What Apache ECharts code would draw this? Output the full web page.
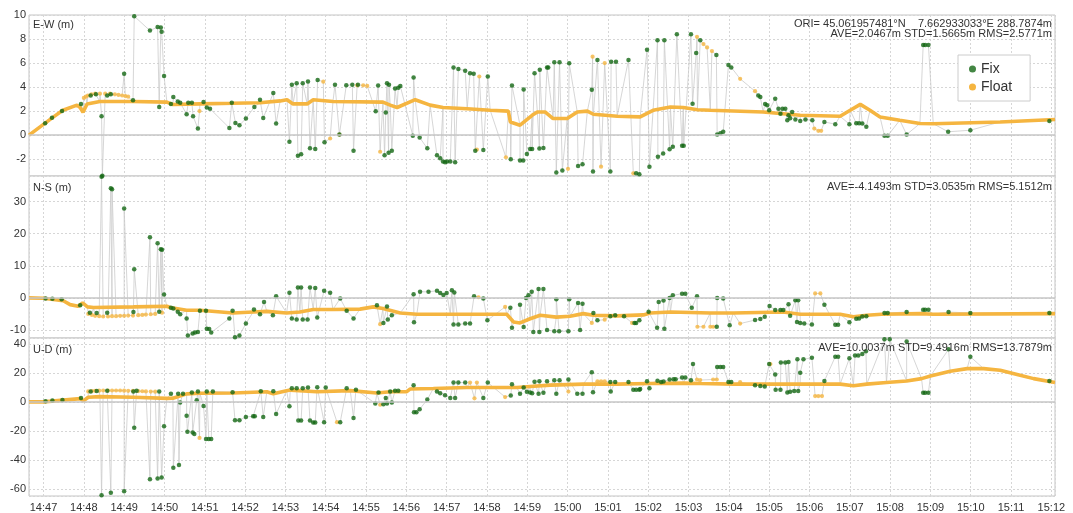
<!DOCTYPE html>
<html><head><meta charset="utf-8">
<script src="https://cdn.jsdelivr.net/npm/echarts@6/dist/echarts.min.js"></script>
<style>html,body{margin:0;padding:0;background:#fff}#c{width:1073px;height:513px}</style>
</head><body><div id="c"></div>
<script>
// time values: decimal minutes after 14:00 ; values in metres
const X_MIN = 46.64, X_MAX = 72.09;
const PANEL_TITLES = ['E-W (m)', 'N-S (m)', 'U-D (m)'];
const ORI_TEXT = 'ORI= 45.061957481°N    7.662933033°E 288.7874m';
const STATS = ['AVE=2.0467m STD=1.5665m RMS=2.5771m', 'AVE=-4.1493m STD=3.0535m RMS=5.1512m', 'AVE=10.0037m STD=9.4916m RMS=13.7879m'];
const Y_RANGES = [[-3.4, 10, 2], [-12.5, 38, 10], [-64.9, 44, 20]];

// ---------- E-W ----------
const EW_FLOAT = [[46.64,0],[47.04,1.0],[47.24,1.5],[47.48,2.07],[47.83,2.5],[47.91,2.3],[47.98,1.9],[48.08,2.6],[48.40,2.8],[49.22,2.8],[50.06,2.75],[50.21,2.55],[50.88,2.6],[51.70,2.65],[52.37,2.7],[52.87,2.85],[53.04,2.95],[53.19,2.6],[53.54,2.6],[53.69,2.95],[54.18,2.8],[55.42,2.75],[55.60,2.5],[55.77,2.3],[56.22,2.95],[56.59,2.5],[56.91,2.3],[57.51,2.2],[58.08,2.07],[58.53,2.0],[58.58,1.1],[58.82,0.83],[59.12,1.65],[59.25,1.93],[59.44,1.93],[59.64,1.38],[59.99,1.38],[60.24,1.93],[60.49,2.0],[60.64,1.74],[61.23,1.57],[61.80,1.52],[62.12,2.07],[62.55,2.34],[62.87,2.3],[63.22,2.12],[63.54,2.07],[64.85,1.93],[65.77,1.65],[66.76,1.57],[67.01,2.07],[67.26,2.56],[67.50,2.07],[67.75,1.51],[68.24,1.24],[68.74,0.97],[69.07,0.95],[70.73,1.1],[72.09,1.3]];
const EW_FLOAT_X = [[48.00,3.1],[48.05,3.2],[48.10,3.3],[48.19,3.4],[48.28,3.45],[48.40,3.45],[48.53,3.45],[48.65,3.45],[48.77,3.4],[48.86,3.35],[48.95,3.3],[49.03,3.25],[49.10,3.2],[50.87,2.0],[53.94,4.45],[54.11,-0.28],[54.34,0.05],[54.78,4.15],[54.93,4.15],[55.03,4.1],[55.35,-1.38],[57.75,-1.2],[57.81,4.88],[58.47,-1.84],[60.01,-2.8],[60.62,6.53],[60.83,-2.62],[60.92,6.0],[61.63,-3.18],[63.21,8.18],[63.37,7.58],[63.46,7.3],[63.58,7.0],[64.28,4.69],[64.65,3.66],[66.12,0.55],[66.22,0.36],[66.29,0.36]];
const EW_FIX = [[47.04,1.0],[47.21,1.45],[47.46,2.0],[47.93,2.6],[48.17,3.3],[48.30,3.4],[48.44,1.57],[48.46,-3.38],[48.58,3.3],[48.67,3.4],[49.00,5.1],[49.22,2.9],[49.25,9.9],[49.64,8.7],[49.83,9.0],[49.87,2.34],[49.91,8.95],[49.93,8.6],[49.99,4.93],[50.16,2.6],[50.22,3.17],[50.33,2.8],[50.39,2.7],[50.55,1.74],[50.59,2.7],[50.68,2.7],[50.71,1.57],[50.83,0.55],[50.97,2.75],[51.05,2.3],[51.13,2.2],[51.61,0.6],[51.67,2.7],[51.76,1.02],[51.86,0.83],[52.02,1.38],[52.23,2.34],[52.37,2.95],[52.45,1.43],[52.70,3.5],[52.77,0.97],[53.10,-0.55],[53.16,4.19],[53.28,4.32],[53.31,-1.71],[53.39,-1.6],[53.43,4.32],[53.56,4.46],[53.61,-1.1],[53.74,-1.15],[53.80,4.6],[53.97,-0.6],[54.23,4.2],[54.34,0.05],[54.51,4.15],[54.66,4.2],[54.69,-1.3],[54.80,4.2],[55.24,1.98],[55.30,4.13],[55.46,-1.68],[55.49,1.88],[55.52,4.32],[55.56,-1.46],[55.57,4.2],[55.64,-1.3],[55.72,3.88],[55.80,3.95],[55.85,4.1],[56.16,-0.05],[56.18,4.8],[56.33,-0.2],[56.52,-1.1],[56.76,-1.68],[56.84,-1.93],[56.91,-2.2],[56.96,-2.25],[57.01,-2.2],[57.09,-2.2],[57.17,5.64],[57.21,-2.26],[57.29,5.5],[57.46,5.37],[57.58,5.15],[57.67,5.1],[57.71,-1.3],[57.91,-1.24],[58.02,4.88],[58.59,-2.0],[58.62,4.13],[58.82,-2.12],[58.90,-2.12],[58.91,3.8],[58.99,-1.57],[59.07,-1.15],[59.12,-1.15],[59.18,5.15],[59.30,-1.12],[59.31,5.45],[59.40,-1.07],[59.49,5.64],[59.52,5.64],[59.67,6.06],[59.72,-3.1],[59.80,6.06],[59.87,-2.95],[60.04,5.98],[60.26,-2.56],[60.37,-2.42],[60.60,3.78],[60.63,-3.03],[60.74,6.26],[61.06,-3.03],[61.08,6.1],[61.20,6.1],[61.51,6.26],[61.70,-3.18],[61.78,-3.25],[61.97,7.1],[62.03,-2.62],[62.23,7.9],[62.24,-1.79],[62.37,-1.53],[62.40,7.9],[62.53,-1.18],[62.61,-0.97],[62.71,8.4],[62.84,-0.88],[62.88,-0.88],[63.06,8.4],[63.10,2.62],[63.19,6.83],[63.29,7.9],[63.69,6.67],[63.71,0.05],[63.79,0.15],[63.86,0.28],[63.99,5.84],[64.06,5.64],[64.73,3.3],[64.78,3.17],[64.90,2.6],[64.95,2.48],[65.00,2.07],[65.15,3.03],[65.23,2.2],[65.28,1.79],[65.33,2.2],[65.40,2.2],[65.45,1.24],[65.48,1.65],[65.52,1.4],[65.57,1.93],[65.65,1.3],[65.77,1.18],[65.90,1.3],[66.07,1.24],[66.37,1.1],[66.64,0.91],[66.99,0.91],[67.16,1.0],[67.23,1.0],[67.31,0.97],[67.41,0.69],[67.86,-0.05],[67.94,-0.05],[68.41,0.05],[68.82,7.5],[68.87,7.5],[68.95,7.5],[69.44,0.28],[69.99,0.41],[71.95,1.18]];

// ---------- N-S ----------
const NS_FLOAT = [[46.64,0],[47.00,-0.1],[47.49,-0.9],[47.66,-2.1],[47.86,-2.6],[47.97,-1.56],[48.09,-2.8],[48.24,-3.0],[49.23,-2.8],[50.06,-2.6],[50.14,-3.0],[50.55,-3.85],[50.88,-3.85],[51.70,-4.7],[52.20,-4.4],[52.54,-4.2],[53.03,-4.7],[53.36,-4.4],[53.69,-3.6],[54.18,-3.6],[54.85,-3.5],[55.18,-2.8],[55.42,-3.3],[55.85,-4.7],[56.26,-5.1],[57.09,-5.1],[58.49,-5.1],[58.66,-7.5],[58.82,-7.8],[59.07,-6.5],[59.32,-5.4],[59.72,-6.0],[60.06,-5.7],[60.39,-4.9],[60.64,-5.4],[61.22,-5.6],[61.88,-5.3],[62.05,-4.7],[62.55,-4.4],[63.54,-4.7],[64.11,-4.7],[65.35,-4.4],[65.77,-5.1],[66.76,-5.1],[67.09,-5.9],[67.42,-5.4],[67.79,-5.1],[68.74,-4.9],[69.07,-5.1],[72.09,-4.9]];
const NS_FLOAT_X = [[48.11,-5.0],[48.20,-5.3],[48.28,-5.6],[48.38,-5.7],[48.48,-5.8],[48.60,-5.8],[48.70,-5.7],[48.80,-5.7],[48.90,-5.6],[49.00,-5.6],[49.10,-5.5],[49.22,-5.5],[49.35,-5.4],[49.45,-5.3],[49.54,-5.2],[49.66,-5.1],[49.77,-5.0],[49.94,-4.6],[55.35,-8.2],[57.79,0.2],[58.45,-2.8],[60.60,-7.8],[60.92,-6.8],[61.60,-7.8],[63.22,-9.0],[63.37,-9.0],[63.54,-9.0],[63.61,-9.0],[64.28,-8.0],[66.14,1.4],[66.27,1.4]];
const NS_FIX = [[47.05,-0.17],[47.22,-0.23],[47.45,-0.4],[47.91,-2.3],[48.15,-4.6],[48.32,-4.7],[48.44,37.8],[48.58,-4.6],[48.67,34.2],[48.70,33.9],[49.00,27.9],[49.23,-4.4],[49.25,8.9],[49.64,18.9],[49.83,17.0],[49.87,-4.3],[49.91,15.2],[49.94,15.0],[49.99,1.06],[50.16,-3.1],[50.22,-3.3],[50.33,-4.3],[50.39,-5.1],[50.55,-6.4],[50.58,-11.7],[50.70,-11.1],[50.76,-10.8],[50.83,-10.6],[50.88,-4.0],[51.03,-4.0],[51.05,-9.6],[51.11,-9.7],[51.16,-10.8],[51.61,-6.4],[51.69,-4.0],[51.75,-12.3],[51.86,-11.7],[52.02,-8.0],[52.22,-3.6],[52.37,-5.1],[52.47,-1.3],[52.69,-5.4],[52.77,0.5],[53.10,1.6],[53.16,-6.4],[53.28,-6.7],[53.31,3.25],[53.39,3.25],[53.43,-6.7],[53.55,-6.7],[53.61,3.25],[53.74,3.1],[53.79,-6.1],[53.96,2.2],[54.11,1.6],[54.36,-0.2],[54.52,-4.0],[54.69,-6.4],[55.27,-2.3],[55.43,-7.8],[55.52,-2.7],[55.54,-6.7],[55.64,-5.4],[56.18,1.1],[56.19,-7.6],[56.34,1.9],[56.55,1.9],[56.76,2.2],[56.84,1.5],[56.92,0.9],[57.00,1.5],[57.13,2.4],[57.17,-8.3],[57.19,1.7],[57.29,-8.3],[57.46,-8.0],[57.58,-8.0],[57.68,0.5],[57.91,-0.2],[58.01,-7.0],[58.58,-3.1],[58.62,-9.3],[58.82,-2.1],[58.91,-9.1],[58.97,0.0],[59.03,0.8],[59.11,1.9],[59.15,-10.6],[59.28,2.8],[59.30,-10.6],[59.40,2.8],[59.49,-10.0],[59.67,-10.4],[59.72,-0.4],[59.79,-10.4],[60.02,-10.4],[60.04,-0.4],[60.26,-1.6],[60.31,-10.0],[60.37,-1.8],[60.64,-4.7],[60.74,-7.0],[61.06,-5.7],[61.18,-5.4],[61.40,-5.7],[61.66,-7.8],[61.70,-7.8],[61.78,-7.0],[62.01,-4.3],[62.22,-9.3],[62.26,-1.3],[62.38,-0.8],[62.40,-9.6],[62.53,0.0],[62.61,0.8],[62.84,1.3],[62.92,1.3],[63.08,-3.1],[63.21,0.5],[63.70,-9.0],[63.71,0.0],[63.86,-0.2],[64.02,-8.5],[64.65,-6.9],[64.78,-6.6],[64.89,-5.9],[65.01,-2.5],[65.15,-3.8],[65.28,-3.8],[65.35,-3.8],[65.48,-2.0],[65.52,-5.6],[65.65,-0.7],[65.69,-7.5],[65.72,-0.7],[65.77,-7.8],[65.87,-8.0],[66.06,-8.3],[66.37,-2.1],[66.64,-8.4],[66.71,-8.4],[66.99,-7.6],[67.16,-6.5],[67.23,-6.4],[67.31,-5.8],[67.41,-5.7],[67.86,-4.7],[67.94,-4.7],[68.41,-4.4],[68.82,-3.7],[68.87,-3.7],[68.95,-3.7],[69.45,-4.4],[69.99,-4.7],[71.95,-4.7]];

// ---------- U-D ----------
const UD_FLOAT = [[46.64,0],[47.00,0],[47.91,2.2],[47.99,0.7],[48.11,3.2],[48.40,3.6],[49.23,3.2],[50.06,2.4],[50.21,2.5],[50.55,5.5],[50.88,5.9],[51.71,6.1],[52.54,7.0],[52.70,5.5],[53.03,7.7],[53.12,8.1],[53.78,7.0],[54.61,7.7],[55.27,6.1],[55.60,7.0],[56.01,7.0],[56.09,8.8],[56.67,9.2],[57.50,9.9],[58.74,9.9],[59.07,10.6],[59.57,11.5],[60.39,12.2],[61.22,12.2],[62.05,12.6],[62.88,12.9],[63.29,12.6],[64.12,12.2],[65.77,12.2],[66.76,12.2],[67.09,11.1],[67.42,12.2],[67.91,13.3],[68.41,14.4],[68.78,16.0],[69.00,17.8],[69.49,21.1],[69.91,22.9],[70.32,22.9],[70.73,21.8],[71.15,18.9],[71.56,16.0],[72.09,13.3]];
const UD_FLOAT_X = [[48.11,7.2],[48.20,7.4],[48.28,7.6],[48.38,7.7],[48.48,7.8],[48.60,7.8],[48.70,7.8],[48.80,7.8],[48.90,7.8],[49.00,7.7],[49.10,7.6],[49.22,7.5],[49.35,7.4],[49.45,7.3],[49.54,7.2],[49.66,7.1],[49.77,7.0],[50.87,-24.9],[54.28,-14.0],[55.35,-2.0],[57.58,13.3],[57.69,2.4],[57.75,13.3],[58.45,3.3],[60.02,7.1],[60.74,14.2],[60.83,14.2],[60.92,14.2],[63.21,15.4],[63.29,15.0],[63.61,15.4],[63.70,15.4],[64.28,13.6],[65.03,26.0],[66.14,4.0],[66.22,4.0],[66.31,4.0]];
const UD_FIX = [[47.05,0.4],[47.22,0.9],[47.47,1.3],[47.93,2.7],[48.17,7.1],[48.32,7.5],[48.44,-64.3],[48.58,7.7],[48.67,-62.7],[49.00,-61.6],[49.23,7.1],[49.25,-17.8],[49.31,7.7],[49.64,-53.3],[49.83,-52.9],[49.87,7.1],[49.93,-52.2],[49.99,-16.9],[50.16,5.5],[50.22,-45.5],[50.34,5.5],[50.36,-43.6],[50.39,-0.5],[50.46,5.5],[50.55,-9.6],[50.57,-20.7],[50.68,6.4],[50.70,-21.1],[50.74,-22.2],[50.80,1.1],[50.83,7.1],[50.97,-2.9],[51.03,-25.6],[51.05,7.1],[51.10,-25.6],[51.16,-25.6],[51.20,7.1],[51.69,6.6],[51.75,-12.7],[51.86,-12.7],[52.02,-10.4],[52.20,-10.0],[52.24,-10.0],[52.39,7.3],[52.45,-10.4],[52.70,7.3],[52.77,-8.4],[53.10,-3.1],[53.16,9.3],[53.28,9.3],[53.32,-12.9],[53.39,-12.9],[53.43,9.3],[53.56,9.8],[53.61,-12.9],[53.69,-14.2],[53.74,-14.2],[53.79,10.0],[53.96,-14.0],[54.00,9.8],[54.36,-14.0],[54.52,9.3],[54.69,-11.1],[54.75,8.4],[55.23,-1.1],[55.31,6.4],[55.43,-1.6],[55.49,2.7],[55.52,-1.2],[55.60,7.1],[55.64,-0.5],[55.72,7.7],[55.80,7.7],[56.18,11.4],[56.19,-7.1],[56.25,-7.1],[56.33,-5.1],[56.52,1.6],[56.76,7.1],[56.84,6.0],[56.96,4.5],[57.09,2.7],[57.17,13.3],[57.21,2.7],[57.29,13.3],[57.46,13.3],[57.91,2.7],[58.02,13.3],[58.59,4.4],[58.62,12.2],[58.82,5.5],[58.91,9.9],[58.99,7.0],[59.07,6.5],[59.12,6.0],[59.18,13.8],[59.28,5.5],[59.30,14.2],[59.40,6.2],[59.49,14.2],[59.67,14.9],[59.72,5.5],[59.80,14.9],[60.02,15.4],[60.24,5.5],[60.37,5.5],[60.60,20.4],[60.63,6.6],[61.06,13.6],[61.07,7.1],[61.18,13.6],[61.51,13.6],[61.63,8.4],[61.70,8.4],[61.78,8.4],[61.80,8.9],[61.97,14.2],[62.03,9.3],[62.23,14.5],[62.32,13.6],[62.38,14.0],[62.53,15.4],[62.63,15.6],[62.68,15.6],[62.84,16.7],[62.92,16.7],[63.06,14.9],[63.11,26.0],[63.71,24.0],[63.79,24.0],[63.86,24.0],[63.99,13.6],[64.06,13.6],[64.65,11.5],[64.78,11.0],[64.89,10.5],[65.00,26.0],[65.15,18.9],[65.16,8.4],[65.28,8.4],[65.29,27.1],[65.40,27.1],[65.48,27.4],[65.45,6.4],[65.52,7.0],[65.62,7.5],[65.72,7.5],[65.70,29.3],[65.77,20.0],[65.85,29.3],[66.06,30.4],[66.37,14.4],[66.64,31.1],[66.71,31.1],[66.99,30.0],[67.13,32.0],[67.21,32.0],[67.31,33.0],[67.40,34.9],[67.86,43.1],[67.99,43.1],[68.41,41.6],[68.82,6.2],[68.87,6.2],[68.95,6.2],[69.45,36.2],[69.99,31.1],[71.95,14.4]];

const FIX_C = '#146814', FLOAT_C = '#f5b540', TRACK_C = '#cbcbcb';
const FONT_N = '"Liberation Sans Narrow","Arial Narrow","Liberation Sans",sans-serif';
const BASE = Date.UTC(2024, 0, 1, 14, 0, 0);
const ts = m => BASE + Math.round(m * 60000);
const toXY = arr => arr.map(p => [ts(p[0]), p[1]]);
const pad = n => (n < 10 ? '0' : '') + n;

const GRID_TOPS = [15, 176, 338], GRID_H = [161, 162, 162];
const DATA = [[EW_FLOAT, EW_FLOAT_X, EW_FIX], [NS_FLOAT, NS_FLOAT_X, NS_FIX], [UD_FLOAT, UD_FLOAT_X, UD_FIX]];

const grids = [], xAxes = [], yAxes = [], series = [];
for (let i = 0; i < 3; i++) {
  grids.push({left: 29, right: 18, top: GRID_TOPS[i], height: GRID_H[i], show: true, borderColor: '#c4c4c4', borderWidth: 1, backgroundColor: '#fff'});
  xAxes.push({type: 'time', gridIndex: i, min: ts(X_MIN), max: ts(X_MAX), splitNumber: 25, minInterval: 60000, maxInterval: 60000,
    axisLine: {show: false}, axisTick: {show: false},
    splitLine: {show: true, lineStyle: {color: '#d6d6d6', type: [2, 2], width: 1}},
    axisLabel: {show: i === 2, color: '#333', fontSize: 11, fontFamily: FONT_N, margin: 6, hideOverlap: false,
      formatter: v => { const d = new Date(v); return d.getUTCHours() + ':' + pad(d.getUTCMinutes()); }}});
  const r = Y_RANGES[i];
  yAxes.push({type: 'value', gridIndex: i, min: r[0], max: r[1], minInterval: r[2], maxInterval: r[2],
    axisLine: {show: false}, axisTick: {show: false},
    splitLine: {show: true, lineStyle: {color: '#d6d6d6', type: [2, 2], width: 1}},
    axisLabel: {color: '#333', fontSize: 11, fontFamily: FONT_N, margin: 3, showMinLabel: false, showMaxLabel: i === 0}});
  const [fl, flx, fix] = DATA[i];
  const all = fl.concat(flx, fix).slice().sort((a, b) => a[0] - b[0]);
  series.push({type: 'line', name: 'track', xAxisIndex: i, yAxisIndex: i, data: toXY(all), symbol: 'none', silent: true,
    lineStyle: {color: TRACK_C, width: 0.8}, z: 1,
    markLine: {silent: true, symbol: 'none', label: {show: false}, animation: false,
      lineStyle: {color: '#c6c6c6', type: 'solid', width: 1.5}, data: [{yAxis: 0}]}});
  series.push({type: 'line', name: 'Float', xAxisIndex: i, yAxisIndex: i, data: toXY(fl), symbol: 'none',
    lineStyle: {color: FLOAT_C, width: 3.6}, itemStyle: {color: FLOAT_C}, z: 2});
  series.push({type: 'scatter', name: 'Float', xAxisIndex: i, yAxisIndex: i, data: toXY(flx), symbolSize: 4.2,
    itemStyle: {color: FLOAT_C}, z: 3});
  series.push({type: 'scatter', name: 'Fix', xAxisIndex: i, yAxisIndex: i, data: toXY(fix), symbolSize: 4.5,
    itemStyle: {color: FIX_C}, z: 4});
}

const TITLE_Y = [19, 182, 344];
const graphics = [];
for (let i = 0; i < 3; i++) {
  graphics.push({type: 'text', x: 33, y: TITLE_Y[i], z: 100, style: {text: PANEL_TITLES[i], fill: '#333', font: '11px ' + FONT_N}});
}
graphics.push({type: 'text', x: 1052, y: 18, z: 100, style: {text: ORI_TEXT, align: 'right', fill: '#333', font: '11px ' + FONT_N}});
graphics.push({type: 'text', x: 1052, y: 28, z: 100, style: {text: STATS[0], align: 'right', fill: '#333', font: '11px ' + FONT_N}});
graphics.push({type: 'text', x: 1052, y: 181, z: 100, style: {text: STATS[1], align: 'right', fill: '#333', font: '11px ' + FONT_N}});
graphics.push({type: 'text', x: 1052, y: 342, z: 100, style: {text: STATS[2], align: 'right', fill: '#333', font: '11px ' + FONT_N}});

const chart = echarts.init(document.getElementById('c'), null, {renderer: 'canvas'});
chart.setOption({
  animation: false,
  useUTC: true,
  backgroundColor: '#fff',
  grid: grids, xAxis: xAxes, yAxis: yAxes, series: series, graphic: graphics,
  legend: {data: ['Fix', 'Float'], orient: 'vertical', left: 958, top: 55, icon: 'circle', itemWidth: 7, itemHeight: 7,
    itemGap: 4, backgroundColor: '#fff', borderColor: '#cccccc', borderWidth: 1, padding: [7, 18, 7, 11],
    textStyle: {fontSize: 14, color: '#333', fontFamily: '"Liberation Sans",sans-serif'}, selectedMode: false}
});
</script></body></html>
